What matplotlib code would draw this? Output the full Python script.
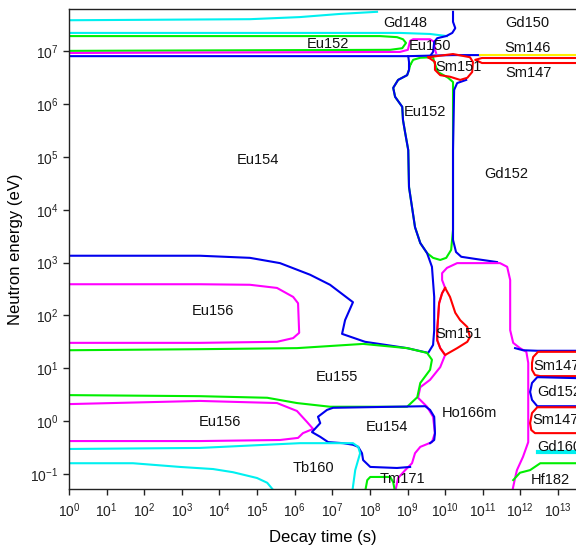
import numpy as np
import matplotlib
matplotlib.use("Agg")
from matplotlib import pyplot as plt
from matplotlib.ticker import LogLocator, NullLocator, LogFormatterSciNotation

plt.rcParams['font.family'] = ['Liberation Sans', 'DejaVu Sans']
plt.rcParams['mathtext.default'] = 'regular'

# all curves are log10(decay time / s), log10(neutron energy / eV)
cyan_top_x = [0, 4.81, 6.14, 7.21, 8.19]
cyan_top_y = [7.59, 7.61, 7.65, 7.71, 7.75]

cyan_mid_x = [0, 8.80, 9.60, 10.05]
cyan_mid_y = [7.35, 7.35, 7.33, 7.29]

eu152_top_x = [0, 8.27, 8.72, 8.88, 8.96, 8.86, 8.54, 0]
eu152_top_y = [7.29, 7.29, 7.27, 7.23, 7.16, 7.06, 7.03, 7.01]

eu150_x = [0, 8.80, 9.01, 9.07, 9.15, 9.60, 9.71, 9.73, 9.76]
eu150_y = [6.97, 6.99, 7.03, 7.20, 7.23, 7.23, 7.18, 7.03, 6.97]

gd148_x = [10.21, 10.21, 10.27, 10.19, 10.03, 9.79, 9.71, 9.68, 9.60]
gd148_y = [7.75, 7.56, 7.44, 7.35, 7.29, 7.25, 7.18, 6.99, 6.91]

eu154_x = [0, 9.02, 9.04, 9.04, 8.99, 8.75, 8.62, 8.67, 8.86, 8.88, 8.94, 9.02, 9.04,
           9.12, 9.20, 9.34, 9.52, 9.65, 9.71, 9.71, 9.68, 9.55, 8.99, 7.87, 7.26,
           7.34, 7.55, 6.94, 6.41, 5.61, 4.81, 3.48, 0]
eu154_y = [6.91, 6.91, 6.80, 6.65, 6.55, 6.46, 6.31, 6.14, 5.95, 5.70, 5.45, 5.13, 4.43,
           4.05, 3.67, 3.37, 3.18, 2.92, 2.35, 1.72, 1.44, 1.29, 1.38, 1.50, 1.65,
           1.91, 2.25, 2.58, 2.77, 2.99, 3.09, 3.13, 3.13]

blue_top_x = [9.02, 10.21, 10.93]
blue_top_y = [6.91, 6.93, 6.93]

eu152_mid_x = [9.07, 9.15, 9.34, 9.68, 9.71, 9.81, 10.08, 10.21, 10.21, 10.16, 10.03,
               9.87, 9.68, 9.52, 9.34, 9.20, 9.12, 9.04, 9.02, 8.94, 8.88, 8.86,
               8.67, 8.62, 8.75, 8.99, 9.04, 9.07]
eu152_mid_y = [6.74, 6.84, 6.88, 6.89, 6.80, 6.61, 6.50, 6.42, 3.62, 3.24, 3.09,
               3.05, 3.09, 3.18, 3.37, 3.67, 4.05, 4.43, 5.13, 5.45, 5.70, 5.95,
               6.14, 6.31, 6.46, 6.55, 6.65, 6.74]

gd152_left_x = [10.56, 10.32, 10.24, 10.21, 10.21, 10.29, 10.43, 10.80, 11.38]
gd152_left_y = [6.46, 6.40, 6.27, 5.13, 3.43, 3.20, 3.11, 3.07, 3.01]

sm151_top_x = [9.55, 9.73, 9.73, 9.87, 10.13, 10.40, 10.59, 10.72, 10.74, 10.66, 10.21, 9.55]
sm151_top_y = [6.89, 6.80, 6.65, 6.55, 6.52, 6.46, 6.50, 6.61, 6.80, 6.89, 6.95, 6.89]

sm146_x = [13.6, 10.98, 10.80, 10.98, 13.6]
sm146_y = [6.875, 6.875, 6.84, 6.78, 6.78]

yellow_x = [10.93, 13.6]
yellow_y = [6.93, 6.93]

sm151_low_x = [10.0, 10.13, 10.27, 10.40, 10.59, 10.66, 10.59, 10.32, 10.0, 9.87,
               9.79, 9.79, 9.84, 9.92, 10.0]
sm151_low_y = [2.52, 2.35, 2.05, 1.91, 1.78, 1.59, 1.50, 1.38, 1.25, 1.38,
               1.53, 1.72, 2.23, 2.42, 2.52]

ho166m_right_x = [11.78, 11.86, 11.91, 12.07, 12.21, 12.21, 12.16, 11.99, 11.81, 11.73,
                  11.73, 11.65, 11.46, 10.32, 10.05, 9.92, 9.92, 10.0, 9.92, 9.84,
                  9.79, 9.79, 9.87, 10.0]
ho166m_right_y = [-1.35, -1.08, -0.93, -0.68, -0.40, 1.10, 1.31, 1.38, 1.48, 1.72,
                  2.67, 2.92, 2.99, 2.99, 2.90, 2.80, 2.67, 2.52, 2.42, 2.23,
                  1.72, 1.53, 1.38, 1.25]

ho166m_left_x = [10.0, 9.87, 9.60, 9.34, 9.28, 9.52, 9.68, 9.73, 9.65, 9.34, 9.20,
                 9.12, 8.94, 8.75, 8.67]
ho166m_left_y = [1.25, 1.02, 0.78, 0.64, 0.44, 0.27, 0.08, -0.23, -0.40, -0.49, -0.61,
                 -0.80, -0.93, -1.08, -1.35]

gd152_right_x = [11.86, 12.07, 12.45, 13.6]
gd152_right_y = [1.38, 1.34, 1.33, 1.33]

sm147_a_x = [13.6, 12.47, 12.34, 12.31, 12.31, 12.39, 12.53, 13.6]
sm147_a_y = [1.31, 1.31, 1.21, 1.10, 0.97, 0.87, 0.85, 0.85]

gd152_box_x = [13.6, 12.45, 12.31, 12.26, 12.31, 12.45, 13.6]
gd152_box_y = [0.81, 0.83, 0.72, 0.55, 0.40, 0.28, 0.28]

sm147_b_x = [13.6, 12.45, 12.31, 12.26, 12.29, 12.39, 13.6]
sm147_b_y = [0.26, 0.26, 0.15, -0.04, -0.17, -0.23, -0.23]

gd160_x = [12.47, 13.6]
gd160_y = [-0.59, -0.59]

hf182_x = [11.81, 11.99, 12.26, 12.53, 13.6]
hf182_y = [-1.12, -0.98, -0.93, -0.80, -0.80]

eu156_a_x = [0, 3.48, 4.81, 5.53, 5.96, 6.09, 6.12, 5.96, 5.53, 3.48, 0]
eu156_a_y = [2.59, 2.59, 2.58, 2.52, 2.35, 2.23, 1.67, 1.57, 1.50, 1.48, 1.48]

eu155_x = [0, 3.48, 6.06, 6.94, 7.82, 8.99, 9.52, 9.65, 9.60, 9.34, 9.26, 8.99,
           8.27, 6.94, 6.06, 5.27, 3.48, 0]
eu155_y = [1.34, 1.36, 1.38, 1.42, 1.46, 1.38, 1.29, 1.16, 0.97, 0.72, 0.45, 0.27,
           0.27, 0.27, 0.34, 0.44, 0.47, 0.49]

eu156_b_x = [0, 3.48, 5.53, 6.06, 6.33, 6.49, 6.22, 6.09, 5.61, 3.48, 0]
eu156_b_y = [0.32, 0.38, 0.34, 0.19, -0.02, -0.15, -0.23, -0.32, -0.36, -0.38, -0.38]

eu154_low_x = [9.07, 8.72, 8.01, 7.82, 7.79, 7.69, 7.55, 7.29, 6.89, 6.68, 6.46, 6.68,
               6.62, 6.86, 7.02, 9.47, 9.60, 9.71, 9.73, 9.71, 9.60]
eu154_low_y = [-0.87, -0.89, -0.87, -0.74, -0.61, -0.49, -0.45, -0.42, -0.40, -0.30, -0.21,
               -0.04, 0.08, 0.21, 0.25, 0.28, 0.21, 0.08, -0.23, -0.36, -0.42]

tb160_top_x = [0, 3.48, 6.14, 6.94, 7.55, 7.69, 7.74, 7.61, 7.53]
tb160_top_y = [-0.53, -0.51, -0.42, -0.42, -0.42, -0.49, -0.61, -0.93, -1.35]

tb160_low_x = [0, 1.70, 2.95, 3.83, 4.36, 5.00, 5.27, 5.48]
tb160_low_y = [-0.80, -0.80, -0.87, -0.91, -0.97, -1.08, -1.17, -1.35]

tm171_x = [7.87, 7.93, 8.01, 8.54, 8.62, 8.67]
tm171_y = [-1.35, -1.12, -1.06, -1.06, -1.16, -1.35]

# region labels (centred)
labels = ['Gd148', 'Gd150', 'Eu152', 'Eu150', 'Sm146', 'Sm151', 'Sm147', 'Eu152',
          'Eu154', 'Gd152', 'Eu156', 'Sm151', 'Eu155', 'Ho166m', 'Eu156', 'Eu154',
          'Tb160', 'Tm171', 'Hf182']
label_x = [8.94, 12.18, 6.89, 9.60, 12.18, 10.35, 12.23, 9.47,
           5.03, 11.62, 3.83, 10.35, 7.13, 10.66, 4.02, 8.46,
           6.49, 8.86, 12.79]
label_y = [7.54, 7.54, 7.14, 7.10, 7.06, 6.70, 6.59, 5.85,
           4.94, 4.68, 2.08, 1.65, 0.83, 0.15, -0.02, -0.11,
           -0.89, -1.10, -1.12]
# labels cut by the right edge, as in the original (left aligned)
edge_labels = ['Sm147', 'Gd152', 'Sm147', 'Gd160']
edge_x = [12.34, 12.45, 12.31, 12.45]
edge_y = [1.04, 0.55, 0.02, -0.49]

BLUE = '#0000ee'
GREEN = '#00ee00'
MAG = '#ff00ff'
CYAN = '#00f0f0'
RED = '#ff0000'
YEL = '#ffee00'

fig = plt.figure(figsize=(5.76, 5.49), dpi=100)
ax = fig.add_axes([69/576, 1 - 489/549, 1 - 69/576, (489 - 9)/549])

def line(xs, ys, c, lw=1.5):
    ax.plot(10**np.array(xs), 10**np.array(ys), color=c, lw=lw, solid_joinstyle='round')

line(cyan_top_x, cyan_top_y, CYAN)
line(cyan_mid_x, cyan_mid_y, CYAN)
line(eu152_top_x, eu152_top_y, GREEN)
line(eu150_x, eu150_y, MAG)
line(gd148_x, gd148_y, BLUE)
line(eu152_mid_x, eu152_mid_y, GREEN)
line(eu154_x, eu154_y, BLUE)
line(blue_top_x, blue_top_y, BLUE)
line(gd152_left_x, gd152_left_y, BLUE)
line(yellow_x, yellow_y, YEL)
line(sm146_x, sm146_y, RED)
line(sm151_top_x, sm151_top_y, RED)
line(ho166m_right_x, ho166m_right_y, MAG)
line(ho166m_left_x, ho166m_left_y, MAG)
line(sm151_low_x, sm151_low_y, RED)
line(gd152_right_x, gd152_right_y, BLUE)
line(sm147_a_x, sm147_a_y, RED)
line(gd152_box_x, gd152_box_y, BLUE)
line(sm147_b_x, sm147_b_y, RED)
line(gd160_x, gd160_y, CYAN, lw=3)
line(hf182_x, hf182_y, GREEN)
line(eu156_a_x, eu156_a_y, MAG)
line(eu155_x, eu155_y, GREEN)
line(eu156_b_x, eu156_b_y, MAG)
line(eu154_low_x, eu154_low_y, BLUE)
line(tb160_top_x, tb160_top_y, CYAN)
line(tb160_low_x, tb160_low_y, CYAN)
line(tm171_x, tm171_y, GREEN)

for t, x, y in zip(labels, label_x, label_y):
    ax.text(10**x, 10**y, t, ha='center', va='center', fontsize=10.5, color='#111111')
for t, x, y in zip(edge_labels, edge_x, edge_y):
    ax.text(10**x, 10**y, t, ha='left', va='center', fontsize=10.5, color='#111111')

ax.set_xscale('log')
ax.set_yscale('log')
ax.set_xlim(1, 10**13.48)
ax.set_ylim(10**-1.288, 10**7.803)
ax.xaxis.set_major_locator(LogLocator(base=10, numticks=20))
ax.yaxis.set_major_locator(LogLocator(base=10, numticks=20))
ax.xaxis.set_minor_locator(NullLocator())
ax.yaxis.set_minor_locator(NullLocator())
ax.xaxis.set_major_formatter(LogFormatterSciNotation())
ax.yaxis.set_major_formatter(LogFormatterSciNotation())
ax.tick_params(direction='out', length=4, width=1, labelsize=10, colors='#222222')
ax.tick_params(axis='x', pad=5)
ax.spines['right'].set_visible(False)
for s in ['left', 'bottom', 'top']:
    ax.spines[s].set_linewidth(1)
    ax.spines[s].set_color('#222222')

ax.set_xlabel('Decay time (s)', fontsize=12, labelpad=7)
ax.set_ylabel('Neutron energy (eV)', fontsize=12, labelpad=5)

fig.savefig('out.png', dpi=100)
